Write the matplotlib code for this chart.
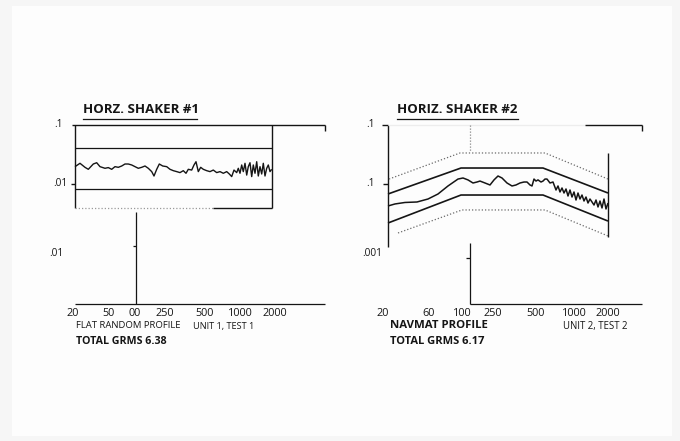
import numpy as np
import matplotlib
matplotlib.use('Agg')
import matplotlib.pyplot as plt
from matplotlib.transforms import blended_transform_factory
from matplotlib.patches import Rectangle

# ---------------- data (x in chart units from each panel's left axis, y = PSD g^2/Hz)
P1_TICK_X = [-2.5, 33, 60, 90, 130, 165, 200]
P1_TICK_LABELS = ['20', '50', '00', '250', '500', '1000', '2000']
P2_TICK_X = [-5, 41, 74, 105, 148, 186, 220]
P2_TICK_LABELS = ['20', '60', '100', '250', '500', '1000', '2000']

P1_YTICK_LABELS = ['.1', '.01', '.01']
P2_YTICK_LABELS = ['.1', '.1', '.001']

# panel 1: flat random profile, tolerance limits and measured trace
P1_UPPER = 0.0404
P1_LOWER = 0.00807
P1_TRACE_X = [0, 5, 10, 13.3, 18.3, 21.7, 25, 30, 33.3, 36.7, 40, 43.3, 46.7, 50, 53.3,
              56.7, 60, 63.3, 66.7, 70, 73.3, 76.7, 79, 81.7, 84.3, 87.7, 91.7, 95, 98.3,
              101.7, 105, 108.3, 111, 113.3, 116.7, 119, 121, 123.3, 125.7, 128.3, 131.7,
              135, 138.3, 141.7, 145, 148.3, 151.7, 154.3, 156.7, 159, 161.7, 163.3, 165,
              166.7, 168.3, 170, 171.7, 173.3, 175, 176.7, 178.3, 180, 181.7, 183.3, 185,
              186.7, 188.3, 190, 191.7, 193.3, 195, 196.7]
P1_TRACE_Y = [0.0193, 0.0220, 0.0188, 0.0174, 0.0214, 0.0225, 0.0193, 0.0181, 0.0186,
              0.0174, 0.0193, 0.0188, 0.0198, 0.0214, 0.0214, 0.0206, 0.0193, 0.0181,
              0.0188, 0.0198, 0.0181, 0.0159, 0.0134, 0.0174, 0.0214, 0.0198, 0.0193,
              0.0174, 0.0165, 0.0159, 0.0153, 0.0165, 0.0149, 0.0174, 0.0169, 0.0206,
              0.0234, 0.0159, 0.0188, 0.0174, 0.0165, 0.0159, 0.0169, 0.0153, 0.0159,
              0.0149, 0.0159, 0.0145, 0.0131, 0.0169, 0.0153, 0.0181, 0.0149, 0.0206,
              0.0159, 0.0220, 0.0139, 0.0193, 0.0225, 0.0131, 0.0206, 0.0149, 0.0234,
              0.0134, 0.0193, 0.0145, 0.0220, 0.0134, 0.0181, 0.0206, 0.0159, 0.0174]

# panel 2: NAVMAT profile envelopes (breakpoints) and measured trace
P2_ENV_X = [0, 73, 155, 220]
P2_UPPER_SOLID = [0.00664, 0.0183, 0.0183, 0.00690]
P2_LOWER_SOLID = [0.00214, 0.00638, 0.00638, 0.00231]
P2_DOT_UP_X = [1, 72, 157, 220]
P2_UPPER_DOT = [0.0119, 0.0329, 0.0329, 0.0119]
P2_DOT_LO_X = [10, 74, 157, 220]
P2_LOWER_DOT = [0.00145, 0.00356, 0.00356, 0.00129]
P2_TRACE_X = [0, 7, 17, 29, 40, 50, 60, 70, 75, 80, 85, 89, 92, 97, 102, 106, 110, 114,
              119, 124, 128, 132, 136, 139, 142, 144, 146, 148, 150, 153, 155, 157, 159,
              162, 165, 168, 170, 172, 174, 176, 178, 180, 182, 184, 186, 188, 190, 192,
              194, 196, 198, 200, 202, 204, 206, 208, 210, 212, 214, 216, 218, 220]
P2_TRACE_Y = [0.00416, 0.00450, 0.00477, 0.00486, 0.00546, 0.00664, 0.00908, 0.0119,
              0.0124, 0.0115, 0.0102, 0.0106, 0.0110, 0.0102, 0.00944, 0.0115, 0.0134,
              0.0124, 0.0102, 0.00908, 0.00944, 0.0102, 0.0106, 0.0106, 0.00944, 0.00908,
              0.0119, 0.0110, 0.0115, 0.0106, 0.0110, 0.0119, 0.0119, 0.0102, 0.0106,
              0.00776, 0.00908, 0.00718, 0.00839, 0.00690, 0.00807, 0.00614, 0.00776,
              0.00590, 0.00718, 0.00525, 0.00690, 0.00546, 0.00638, 0.00505, 0.00590,
              0.00467, 0.00546, 0.00486, 0.00432, 0.00525, 0.00400, 0.00505, 0.00385,
              0.00546, 0.00370, 0.00467]

# ---------------- layout helpers
W, H = 680, 441
DEC = 59.0        # pixels per decade on the vertical scale
TOP_PX = 124.5    # pixel row of the 0.1 level
INK = '#151515'
FONT = ['Open Sans', 'DejaVu Sans']
plt.rcParams['font.family'] = FONT

fig = plt.figure(figsize=(W / 100, H / 100), dpi=100, facecolor='#f6f6f6')
fig.patches.append(Rectangle((12 / W, 1 - 436 / H), 660 / W, 430 / H,
                             transform=fig.transFigure, facecolor='#fdfdfd',
                             edgecolor='none', zorder=-10))


def lv(py):
    """PSD level that sits at a given pixel row."""
    return 10 ** (-1 - (py - TOP_PX) / DEC)


def make_ax(x0_px):
    ax = fig.add_axes([0, 0, 1, 1])
    ax.set_zorder(2)
    ax.set_yscale('log')
    ax.set_xlim(-x0_px, W - x0_px)
    ax.set_ylim(lv(H), lv(0))
    ax.axis('off')
    ax.patch.set_alpha(0)
    return ax


def ln(ax, xs, ys, color=INK, lw=1.0, ls='-', z=3):
    ax.plot(xs, ys, color=color, lw=lw, ls=ls, solid_capstyle='butt',
            solid_joinstyle='round', clip_on=False, zorder=z)


def ftext(px, py, s, size, weight='normal', ha='left', color=INK):
    fig.text(px / W, 1 - py / H, s, fontsize=size, fontweight=weight,
             ha=ha, va='center', color=color, family=FONT, zorder=5)


def xticks(ax, xs, labels):
    tr = blended_transform_factory(ax.transData, fig.transFigure)
    for x, lab in zip(xs, labels):
        ax.text(x, 1 - 313 / H, lab, transform=tr, ha='center', va='center',
                fontsize=7.8, color=INK, family=FONT)


BOTTOM = lv(303.5)
DOT = (0, (1, 1.6))

# ================= panel 1
a1 = make_ax(75)
box_b = lv(207.5)
ln(a1, [0, 0], [box_b, 0.1])
ln(a1, [197, 197], [box_b, 0.1])
ln(a1, [-3, 250], [0.1, 0.1])
ln(a1, [250, 250], [0.1, lv(131)])
ln(a1, [0, 197], [P1_UPPER, P1_UPPER], lw=0.9)
ln(a1, [0, 197], [P1_LOWER, P1_LOWER], lw=0.9)
ln(a1, [0, 138], [box_b, box_b], color='#9a9a9a', lw=0.9, ls=DOT)
ln(a1, [138, 197], [box_b, box_b], lw=1.0)
ln(a1, [-4, 0], [0.01, 0.01])
ln(a1, [61, 61], [lv(212), BOTTOM], lw=0.9)
ln(a1, [57.5, 61], [lv(246), lv(246)], lw=0.9)
ln(a1, [0, 250], [BOTTOM, BOTTOM], lw=0.9)
ln(a1, P1_TRACE_X, P1_TRACE_Y, lw=1.0, z=4)
for x, y, s in zip([-12, -8, -11], [0.1, 0.01, lv(253)], P1_YTICK_LABELS):
    a1.text(x, y, s, ha='right', va='center', fontsize=7.3, color=INK, family=FONT)
xticks(a1, P1_TICK_X, P1_TICK_LABELS)

ftext(83, 109.5, 'HORZ. SHAKER #1', 9.5, 'bold')
fig.add_artist(plt.Line2D([83 / W, 197 / W], [1 - 118.5 / H] * 2, color=INK, lw=0.9))
ftext(76, 326, 'FLAT RANDOM PROFILE', 6.8)
ftext(193, 326, 'UNIT 1, TEST 1', 6.6)
ftext(76, 341, 'TOTAL GRMS 6.38', 7.7, 'bold')

# ================= panel 2
a2 = make_ax(388)
ln(a2, [0, 0], [lv(247), 0.1])
ln(a2, [-6, 0], [0.1, 0.1])
ln(a2, [-5, 0], [lv(184), lv(184)])
ln(a2, [0, 197], [0.1, 0.1], color='#ededed', lw=0.9)
ln(a2, [197, 253.5], [0.1, 0.1])
ln(a2, [253.5, 253.5], [0.1, lv(131)])
ln(a2, [82, 82], [0.1, lv(152)], color='#8a8a8a', lw=0.9, ls=(0, (1, 1.4)))
ln(a2, [220, 220], [lv(153), lv(237)])
ln(a2, [81.5, 81.5], [lv(243), BOTTOM], lw=0.9)
ln(a2, [78, 81.5], [lv(258), lv(258)], lw=0.9)
ln(a2, [81.5, 253.5], [BOTTOM, BOTTOM], lw=0.9)
ln(a2, P2_DOT_UP_X, P2_UPPER_DOT, color='#6a6a6a', lw=0.9, ls=DOT)
ln(a2, P2_DOT_LO_X, P2_LOWER_DOT, color='#6a6a6a', lw=0.9, ls=DOT)
ln(a2, P2_ENV_X, P2_UPPER_SOLID, lw=1.2)
ln(a2, P2_ENV_X, P2_LOWER_SOLID, lw=1.2)
ln(a2, P2_TRACE_X, P2_TRACE_Y, lw=1.1, z=4)
for x, y, s in zip([-13, -13, -6], [0.1, lv(183.5), lv(253)], P2_YTICK_LABELS):
    a2.text(x, y, s, ha='right', va='center', fontsize=7.3, color=INK, family=FONT)
xticks(a2, P2_TICK_X, P2_TICK_LABELS)

ftext(397, 109.5, 'HORIZ. SHAKER #2', 9.5, 'bold')
fig.add_artist(plt.Line2D([397 / W, 518 / W], [1 - 118.5 / H] * 2, color=INK, lw=0.9))
ftext(390, 326, 'NAVMAT PROFILE', 8.2, 'bold')
ftext(563, 326, 'UNIT 2, TEST 2', 6.9)
ftext(390, 341, 'TOTAL GRMS 6.17', 8.0, 'bold')

fig.savefig('out.png', dpi=100, facecolor=fig.get_facecolor())
